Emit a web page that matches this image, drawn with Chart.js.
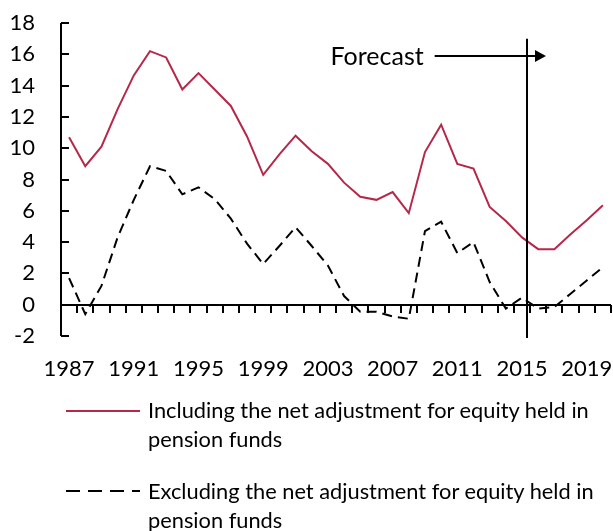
<!DOCTYPE html>
<html>
<head>
<meta charset="utf-8">
<script src="https://cdn.jsdelivr.net/npm/chart.js@4.4.1/dist/chart.umd.min.js"></script>
<style>
  html, body { margin: 0; padding: 0; background: #fff; }
  #wrap { position: relative; width: 613px; height: 531px; font-family: Lato, "DejaVu Sans", sans-serif; }
  #c { position: absolute; left: 0; top: 0; }
  .lg { position: absolute; left: 148px; font-size: 21.8px; line-height: 29px; color: #000; white-space: nowrap; }
  .sw { position: absolute; left: 66px; width: 74px; height: 4px; }
</style>
</head>
<body>
<div id="wrap">
  <canvas id="c" width="613" height="531"></canvas>
  <svg class="sw" style="top:409px" width="74" height="4"><line x1="0" y1="2" x2="74" y2="2" stroke="#B5284A" stroke-width="2"/></svg>
  <div class="lg" style="top:395px">Including the net adjustment for equity held in<br>pension funds</div>
  <svg class="sw" style="top:489px" width="74" height="4"><line x1="0" y1="2" x2="74" y2="2" stroke="#000" stroke-width="2" stroke-dasharray="14 8"/></svg>
  <div class="lg" style="top:476px">Excluding the net adjustment for equity held in<br>pension funds</div>
</div>
<script>
const years = [];
for (let y = 1987; y <= 2020; y++) years.push(String(y));
const including = [10.7, 8.85, 10.1, 12.5, 14.65, 16.2, 15.8, 13.75, 14.8, 13.75, 12.7, 10.75, 8.3, 9.6, 10.8, 9.8, 9.0, 7.8, 6.9, 6.7, 7.2, 5.85, 9.75, 11.5, 9.0, 8.7, 6.25, 5.35, 4.3, 3.55, 3.55, 4.5, 5.4, 6.35];
const excluding = [1.7, -0.6, 1.2, 4.3, 6.7, 8.85, 8.55, 7.05, 7.5, 6.75, 5.5, 3.9, 2.6, 3.75, 4.95, 3.75, 2.5, 0.55, -0.45, -0.45, -0.75, -0.9, 4.7, 5.3, 3.3, 4.0, 1.45, -0.25, 0.45, -0.25, -0.15, 0.7, 1.55, 2.4];
const yTicks = [-2, 0, 2, 4, 6, 8, 10, 12, 14, 16, 18];
const labelEvery = 4;
const forecastIndex = 28.3;   // just before the 2015/2016 boundary
const forecastLabel = 'Forecast';

const FONT = 'Lato, "DejaVu Sans", sans-serif';

function zeroPad(s) { s.paddingLeft = 0; s.paddingRight = 0; s.paddingTop = 0; s.paddingBottom = 0; }

const axesPlugin = {
  id: 'axesPlugin',
  afterDatasetsDraw(chart) {
    const {ctx, chartArea: a, scales: {x, y}} = chart;
    ctx.save();
    ctx.strokeStyle = '#000';
    ctx.lineWidth = 2;
    ctx.setLineDash([]);
    // y axis
    ctx.beginPath();
    ctx.moveTo(a.left, a.top);
    ctx.lineTo(a.left, a.bottom);
    ctx.stroke();
    yTicks.forEach(v => {
      const py = Math.round(y.getPixelForValue(v));
      ctx.beginPath();
      ctx.moveTo(a.left, py);
      ctx.lineTo(a.left + 8, py);
      ctx.stroke();
    });
    // zero line with ticks
    const y0 = Math.round(y.getPixelForValue(0));
    ctx.beginPath();
    ctx.moveTo(a.left, y0);
    ctx.lineTo(a.right, y0);
    ctx.stroke();
    for (let i = 0; i <= years.length; i++) {
      const px = Math.round(x.getPixelForValue(i - 0.5));
      ctx.beginPath();
      ctx.moveTo(px, y0);
      ctx.lineTo(px, y0 + 8);
      ctx.stroke();
    }
    // forecast divider
    const fx = Math.round(x.getPixelForValue(forecastIndex));
    ctx.beginPath();
    ctx.moveTo(fx, y.getPixelForValue(17));
    ctx.lineTo(fx, a.bottom + 2);
    ctx.stroke();
    // arrow
    const ay = Math.round(y.getPixelForValue(15.9));
    const ax0 = x.getPixelForValue(22.6);
    const ax1 = x.getPixelForValue(28.8);
    ctx.beginPath();
    ctx.moveTo(ax0, ay);
    ctx.lineTo(ax1, ay);
    ctx.stroke();
    ctx.fillStyle = '#000';
    ctx.beginPath();
    ctx.moveTo(ax1, ay - 6);
    ctx.lineTo(ax1 + 11, ay);
    ctx.lineTo(ax1, ay + 6);
    ctx.closePath();
    ctx.fill();
    ctx.font = '25px ' + FONT;
    ctx.textAlign = 'right';
    ctx.textBaseline = 'middle';
    ctx.fillText(forecastLabel, ax0 - 11, ay + 1);
    ctx.restore();
  }
};

new Chart(document.getElementById('c'), {
  type: 'line',
  data: {
    labels: years,
    datasets: [
      { label: 'Including the net adjustment for equity held in pension funds', data: including,
        borderColor: '#B5284A', borderWidth: 2, pointRadius: 0, tension: 0, fill: false },
      { label: 'Excluding the net adjustment for equity held in pension funds', data: excluding,
        borderColor: '#000', borderWidth: 2, borderDash: [10, 6], pointRadius: 0, tension: 0, fill: false }
    ]
  },
  options: {
    responsive: false,
    animation: false,
    layout: { padding: { top: 23, right: 2, left: 0, bottom: 145 } },
    plugins: { legend: { display: false }, tooltip: { enabled: false } },
    scales: {
      x: {
        offset: true,
        grid: { display: false, drawTicks: false, offset: true },
        border: { display: false },
        ticks: {
          autoSkip: false, maxRotation: 0, minRotation: 0, padding: 20,
          color: '#000', font: { family: FONT, size: 22 },
          callback: (v, i) => (i % labelEvery === 0 ? years[i] : '')
        },
        afterFit(s) { s.height = 50; zeroPad(s); }
      },
      y: {
        min: -2, max: 18,
        grid: { display: false, drawTicks: false },
        border: { display: false },
        ticks: { stepSize: 2, padding: 26, color: '#000', font: { family: FONT, size: 22 } },
        afterFit(s) { s.width = 61; zeroPad(s); }
      }
    }
  },
  plugins: [axesPlugin]
});
</script>
</body>
</html>
